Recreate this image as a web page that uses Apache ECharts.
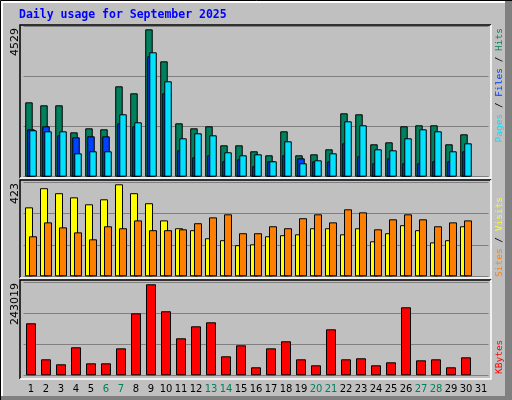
<!DOCTYPE html>
<html>
<head>
<meta charset="utf-8">
<script src="https://cdn.jsdelivr.net/npm/echarts@6/dist/echarts.min.js"></script>
<style>html,body{margin:0;padding:0;background:#c0c0c0}#c{width:512px;height:400px}</style>
</head>
<body>
<div id="c"></div>
<script>
// 数据（31日无数据）
const days = ['1','2','3','4','5','6','7','8','9','10','11','12','13','14','15','16','17','18','19','20','21','22','23','24','25','26','27','28','29','30','31']
const weekend = ['6','7','13','14','20','21','27','28']
const hits = [2286,2194,2194,1364,1487,1457,2778,2563,4529,3546,1641,1487,1549,965,965,781,658,1395,658,688,842,1948,1918,996,1057,1549,1580,1580,996,1303,null]
const pages = [1457,1549,1272,1211,1241,1241,1641,1549,3700,2563,811,596,658,473,535,320,473,658,565,473,473,1026,627,412,565,412,412,473,473,781,null]
const files = [1426,1395,1395,719,781,781,1918,1672,3823,2932,1180,1334,1272,750,658,688,473,1088,412,504,719,1702,1580,842,811,1180,1457,1395,781,1026,null]
const visits = [317,405,382,363,331,354,423,382,336,257,221,212,175,166,143,147,184,189,193,221,221,193,221,161,198,235,212,156,166,230,null]
const sites = [184,248,225,202,170,230,221,257,212,212,216,244,271,285,198,198,230,221,267,285,248,308,294,216,262,285,262,230,248,257,null]
const kbytes = [138900,42700,29400,74800,32000,32000,72000,165500,243019,171000,98800,130800,141500,50700,80100,21400,72000,90800,42700,26700,122800,42700,45400,26700,34700,181600,40000,42700,21400,48000,null]

const chart = echarts.init(document.getElementById('c'))
const mono = 'DejaVu Sans Mono'
const grids = [
  { left: 23.5, right: 23.5, top: 26.7, height: 150 },
  { left: 23.5, right: 23.5, top: 181.8, height: 94.5 },
  { left: 23.5, right: 23.5, top: 282, height: 93.3 }
]
const maxes = [4610, 434.5, 249100]
const bar = (name, data, idx, color, width, gap) => ({
  name, type: 'bar', data, xAxisIndex: idx, yAxisIndex: idx,
  barWidth: width, barGap: gap, animation: false,
  itemStyle: { color, borderColor: '#000', borderWidth: 1 }
})
// 面板边框：上左黑，下右白
const panel = (y1, y2) => [
  { type: 'polyline', shape: { points: [[20, y2], [20, y1], [491, y1]] }, style: { stroke: '#000', lineWidth: 1.5, fill: null } },
  { type: 'polyline', shape: { points: [[20, y2], [491, y2], [491, y1]] }, style: { stroke: '#fff', lineWidth: 1.5, fill: null } }
]
const vtext = (x, y, rich, text, align) => ({
  type: 'text', x, y, rotation: Math.PI / 2,
  style: { text, rich, align, verticalAlign: 'middle', font: '9.5px ' + mono }
})
chart.setOption({
  backgroundColor: '#c0c0c0',
  grid: grids,
  xAxis: [0, 1, 2].map(i => ({
    type: 'category', gridIndex: i,
    data: days.map(d => ({ value: d, textStyle: { color: weekend.includes(d) ? '#00805c' : '#000' } })),
    axisLine: { show: false }, axisTick: { show: false },
    axisLabel: { show: i === 2, interval: 0, fontSize: 10, fontFamily: 'DejaVu Sans', margin: 9 }
  })),
  yAxis: [0, 1, 2].map(i => ({
    type: 'value', gridIndex: i, min: 0, max: maxes[i], interval: maxes[i] / 3,
    axisLabel: { show: false }, axisLine: { show: false }, axisTick: { show: false },
    splitLine: { lineStyle: { color: '#808080', width: 1.2 } }
  })),
  series: [
    bar('Hits', hits, 0, '#00805c', 7.5, '-73%'),
    bar('Pages', pages, 0, '#0040ff', 7.5, '-73%'),
    bar('Files', files, 0, '#00e0ff', 7.5, '-73%'),
    bar('Visits', visits, 1, '#ffff00', 8, '-50%'),
    bar('Sites', sites, 1, '#ff8000', 8, '-50%'),
    bar('KBytes', kbytes, 2, '#ff0000', 10, '0%')
  ],
  graphic: [
    { type: 'rect', shape: { x: 505, y: 0, width: 7, height: 400 }, style: { fill: '#808080' } },
    { type: 'rect', shape: { x: 0, y: 396, width: 512, height: 4 }, style: { fill: '#808080' } },
    { type: 'polyline', shape: { points: [[2, 396], [2, 2], [505, 2]] }, style: { stroke: '#fff', lineWidth: 2, fill: null } },
    { type: 'polyline', shape: { points: [[0.5, 400], [0.5, 0.5], [512, 0.5]] }, style: { stroke: '#000', lineWidth: 1, fill: null } },
    ...panel(25, 178), ...panel(180, 278), ...panel(280, 379),
    { type: 'text', x: 19, y: 15, style: { text: 'Daily usage for September 2025', font: 'bold 11.5px ' + mono, fill: '#0000ff', verticalAlign: 'middle' } },
    { type: 'text', x: 15, y: 28, rotation: Math.PI / 2, style: { text: '4529', font: '11px DejaVu Sans', fill: '#000', align: 'right', verticalAlign: 'middle' } },
    { type: 'text', x: 15, y: 183, rotation: Math.PI / 2, style: { text: '423', font: '11px DejaVu Sans', fill: '#000', align: 'right', verticalAlign: 'middle' } },
    { type: 'text', x: 15, y: 283, rotation: Math.PI / 2, style: { text: '243019', font: '11px DejaVu Sans', fill: '#000', align: 'right', verticalAlign: 'middle' } },
    vtext(500, 28, { p: { fill: '#00e0ff' }, f: { fill: '#0040ff' }, h: { fill: '#00805c' }, s: { fill: '#000' } },
      '{p|Pages}{s| / }{f|Files}{s| / }{h|Hits}', 'right'),
    vtext(500, 277, { a: { fill: '#ff8000' }, b: { fill: '#ffff00' }, s: { fill: '#000' } },
      '{a|Sites}{s| / }{b|Visits}', 'left'),
    vtext(500, 374, { k: { fill: '#ff0000' } }, '{k|KBytes}', 'left')
  ]
})
</script>
</body>
</html>
